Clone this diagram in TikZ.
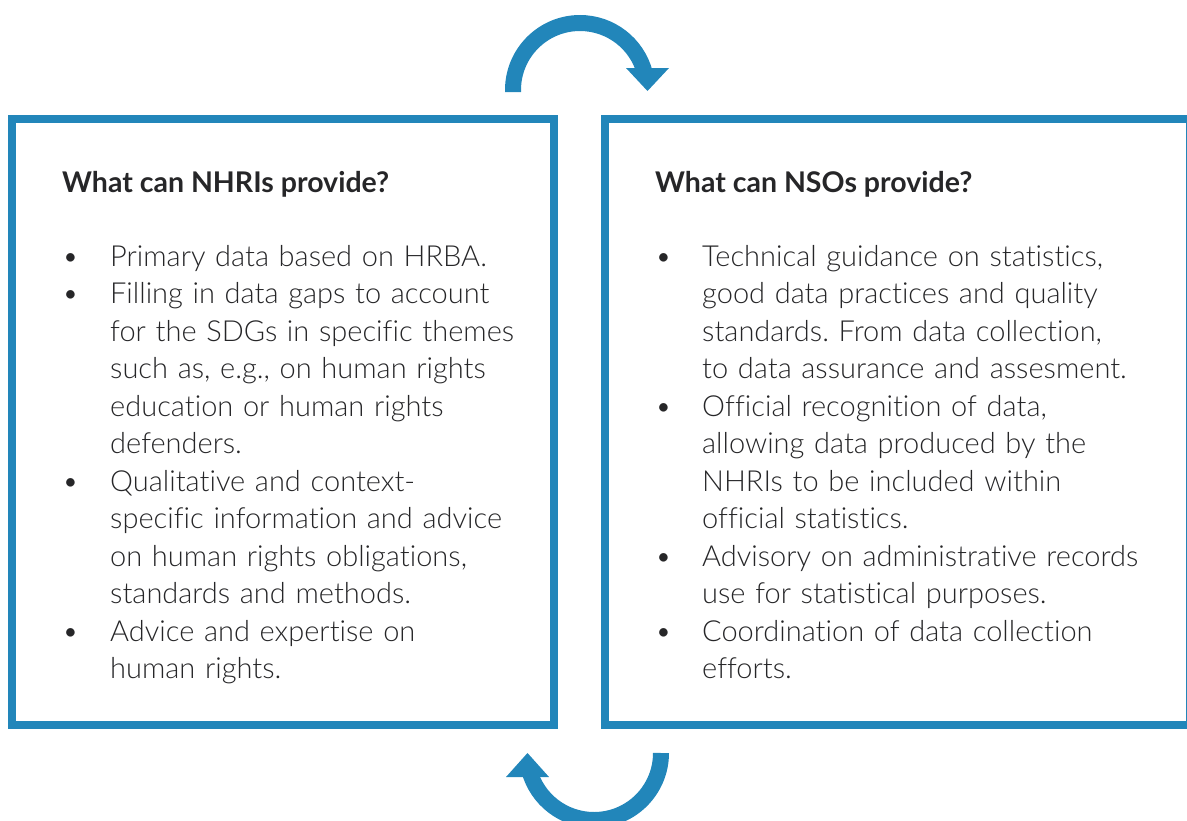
\documentclass[tikz,border=0pt]{standalone}
\usepackage{fontspec}
\setmainfont{Lato}[UprightFont=* Light, BoldFont=* Bold, Ligatures=NoCommon]
\frenchspacing
\definecolor{frameblue}{RGB}{34,134,186}
\definecolor{textgray}{RGB}{38,38,40}
% bullet column and continuation indent
\newlength{\bltwidth}
\newcommand{\blt}{\makebox[\bltwidth][l]{\textbullet}}
\newcommand{\cnt}{\hspace*{\bltwidth}}
\begin{document}
\begin{tikzpicture}[x=1pt, y=-1pt,
  frame/.style={draw=frameblue, line width=8pt},
  turn/.style={draw=frameblue, line width=16pt},
  tip/.style={fill=frameblue},
  heading/.style={anchor=base west, inner sep=0pt, text=textgray,
    font=\fontsize{28.5}{34}\bfseries\selectfont},
  body/.style={anchor=base west, inner sep=0pt, text=textgray, align=left,
    text width=540pt, font=\fontsize{29}{37.5}\selectfont}]
\useasboundingbox (0,0) rectangle (1187,820);
\clip (0,0) rectangle (1187,820);

% the two frames
\draw[frame] (12,119) rectangle (554,725);
\draw[frame] (605,119) rectangle (1190,725);

% top turning arrow
\draw[turn] (513,92) -- (513,90) arc[start angle=180, end angle=345, radius=67];
\fill[tip] (626,68) -- (669,68) -- (647.5,91) -- cycle;

% bottom turning arrow
\draw[turn] (661,753) arc[start angle=0, end angle=165, radius=67];
\fill[tip] (506,777) -- (549,777) -- (527.5,753) -- cycle;

% left panel
\node[heading] (hleft) at (62,192) {What can NHRIs provide?};
\setlength{\bltwidth}{48pt}
\node[body] (bleft) at (62,266) {%
\blt Primary data based on HRBA.\\
\blt Filling in data gaps to account\\
\cnt for the SDGs in specific themes\\
\cnt such as, e.g., on human rights\\
\cnt education or human rights\\
\cnt defenders.\\
\blt Qualitative and context-\\
\cnt specific information and advice\\
\cnt on human rights obligations,\\
\cnt standards and methods.\\
\blt Advice and expertise on\\
\cnt human rights.};

% right panel
\node[heading] (hright) at (655,192) {What can NSOs provide?};
\setlength{\bltwidth}{47pt}
\node[body] (bright) at (655,266) {%
\blt Technical guidance on statistics,\\
\cnt good data practices and quality\\
\cnt standards. From data collection,\\
\cnt to data assurance and assesment.\\
\blt Official recognition of data,\\
\cnt allowing data produced by the\\
\cnt NHRIs to be included within\\
\cnt official statistics.\\
\blt Advisory on administrative records\\
\cnt use for statistical purposes.\\
\blt Coordination of data collection\\
\cnt efforts.};
\end{tikzpicture}
\end{document}
